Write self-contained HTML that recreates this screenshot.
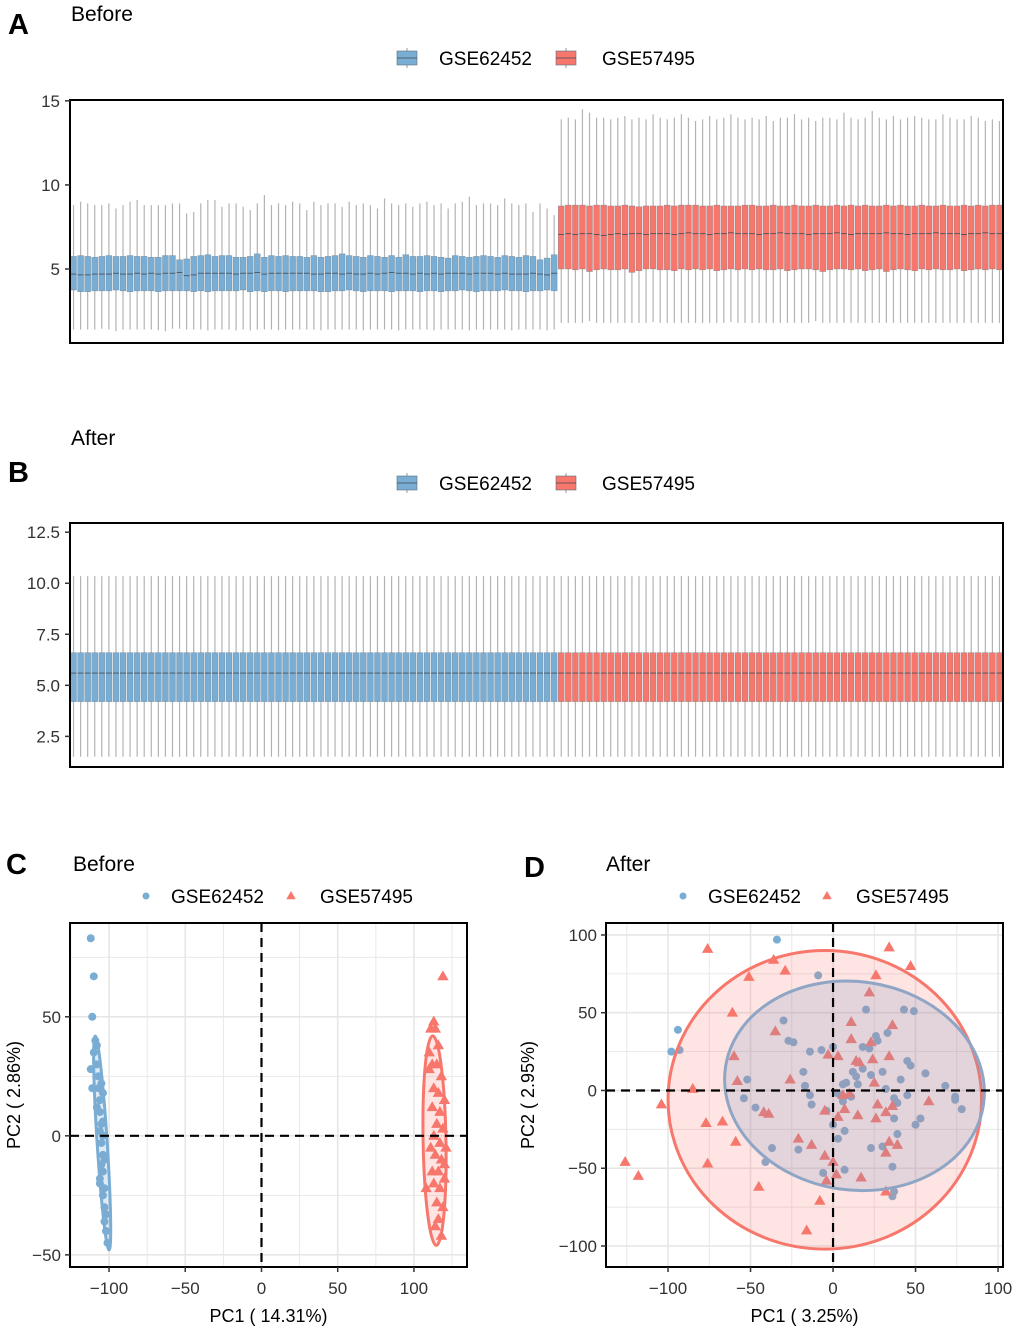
<!DOCTYPE html>
<html><head><meta charset="utf-8"><style>
html,body{margin:0;padding:0;background:#fff;}
svg{display:block;font-family:"Liberation Sans",Arial,sans-serif;}
</style></head><body>
<svg id="fig" width="1020" height="1332" viewBox="0 0 1020 1332"></svg>
<script>
// ===== Panel A data (Before) =====
const blueMed=[4.70,4.65,4.65,4.70,4.70,4.70,4.75,4.70,4.70,4.75,4.70,4.75,4.70,4.75,4.75,4.80,4.60,4.65,4.75,4.75,4.75,4.75,4.75,4.70,4.75,4.75,4.80,4.70,4.75,4.75,4.75,4.75,4.75,4.75,4.70,4.70,4.75,4.75,4.70,4.75,4.70,4.70,4.75,4.70,4.75,4.80,4.75,4.75,4.70,4.75,4.70,4.75,4.70,4.75,4.75,4.75,4.70,4.75,4.75,4.75,4.70,4.75,4.70,4.70,4.70,4.75,4.70,4.65,4.75];
const blueQ1=[3.75,3.65,3.65,3.70,3.70,3.70,3.75,3.70,3.65,3.70,3.70,3.70,3.65,3.70,3.70,3.70,3.70,3.65,3.70,3.65,3.70,3.70,3.70,3.70,3.75,3.65,3.70,3.65,3.70,3.70,3.65,3.70,3.70,3.70,3.70,3.65,3.65,3.70,3.70,3.75,3.70,3.65,3.70,3.70,3.70,3.65,3.70,3.70,3.70,3.65,3.70,3.70,3.65,3.70,3.70,3.75,3.70,3.65,3.70,3.70,3.70,3.75,3.70,3.70,3.65,3.70,3.70,3.75,3.70];
const blueQ3=[5.75,5.80,5.75,5.70,5.75,5.80,5.75,5.75,5.80,5.75,5.75,5.70,5.70,5.80,5.80,5.55,5.60,5.75,5.80,5.85,5.75,5.80,5.80,5.70,5.70,5.75,5.90,5.70,5.80,5.75,5.80,5.75,5.75,5.70,5.80,5.70,5.75,5.80,5.90,5.80,5.75,5.70,5.80,5.75,5.70,5.80,5.70,5.85,5.75,5.75,5.80,5.75,5.70,5.65,5.80,5.75,5.70,5.75,5.80,5.75,5.70,5.80,5.75,5.70,5.80,5.75,5.55,5.65,5.85];
const blueHi=[8.8,9.0,8.9,8.8,8.8,8.9,8.6,8.8,9.0,9.1,8.8,8.8,8.8,8.8,8.9,8.9,8.3,8.4,8.9,9.1,9.1,8.7,8.9,8.9,8.7,8.5,8.9,9.4,8.8,8.9,8.8,9.0,8.9,8.5,9.0,8.8,8.9,8.9,8.7,9.0,8.8,8.9,8.8,8.6,9.2,8.9,8.8,8.9,8.7,8.9,9.0,8.8,8.9,8.6,8.9,9.0,9.3,8.8,8.9,8.9,8.8,9.2,8.9,8.8,8.9,8.4,8.9,8.6,8.2];
const blueLo=[1.4,1.4,1.4,1.4,1.45,1.4,1.3,1.4,1.4,1.4,1.4,1.4,1.35,1.3,1.45,1.45,1.4,1.4,1.4,1.35,1.4,1.4,1.4,1.35,1.4,1.35,1.4,1.4,1.4,1.35,1.4,1.4,1.4,1.4,1.4,1.35,1.4,1.4,1.4,1.4,1.4,1.35,1.4,1.4,1.4,1.4,1.35,1.4,1.4,1.4,1.4,1.35,1.4,1.4,1.4,1.4,1.35,1.4,1.4,1.4,1.4,1.4,1.35,1.4,1.4,1.4,1.4,1.35,1.4];
const redMed=[7.05,7.10,7.05,7.10,7.10,7.05,7.00,7.05,7.10,7.05,7.10,7.10,7.05,7.10,7.10,7.10,7.05,7.10,7.15,7.10,7.10,7.05,7.10,7.10,7.15,7.10,7.10,7.10,7.05,7.10,7.10,7.15,7.10,7.10,7.10,7.05,7.10,7.10,7.10,7.15,7.10,7.05,7.10,7.10,7.10,7.10,7.15,7.10,7.10,7.05,7.10,7.10,7.10,7.15,7.10,7.10,7.10,7.05,7.10,7.10,7.15,7.10,7.10];
const redQ1=[5.0,5.0,4.95,5.0,4.85,4.95,5.0,4.95,4.95,5.0,4.8,4.9,5.0,5.0,4.95,4.95,4.9,5.0,4.95,5.0,4.95,5.0,4.9,4.95,5.0,4.95,5.0,4.95,5.0,4.95,4.95,5.0,4.9,4.95,5.0,5.0,4.95,4.85,4.95,5.0,5.0,4.95,5.0,4.9,4.95,5.0,4.85,4.95,5.0,4.95,4.9,5.0,4.95,5.0,4.95,4.95,5.0,4.9,4.95,5.0,4.95,5.0,4.95];
const redQ3=[8.75,8.8,8.8,8.8,8.75,8.8,8.8,8.75,8.75,8.8,8.75,8.7,8.75,8.75,8.75,8.8,8.75,8.8,8.8,8.8,8.75,8.75,8.8,8.75,8.75,8.75,8.8,8.8,8.75,8.75,8.8,8.75,8.75,8.8,8.75,8.75,8.8,8.75,8.75,8.8,8.75,8.8,8.75,8.8,8.75,8.75,8.8,8.75,8.8,8.75,8.75,8.8,8.75,8.75,8.8,8.75,8.75,8.8,8.75,8.8,8.75,8.8,8.8];
const redHi=[13.9,14.0,13.9,14.5,14.3,14.0,14.0,13.9,14.0,14.1,13.9,14.0,13.9,14.2,14.0,13.9,14.0,14.2,14.0,13.8,13.9,14.1,13.9,14.0,14.2,14.0,13.9,14.0,13.9,14.1,13.8,14.0,14.0,14.2,13.9,14.0,13.8,14.0,14.0,13.9,14.3,14.0,13.9,14.0,14.4,14.0,13.9,14.1,13.9,14.0,14.1,14.0,13.9,13.9,14.2,14.0,13.9,13.9,14.1,14.0,13.8,13.9,13.8];
const redLo=[1.8,1.8,1.8,1.8,1.9,1.8,1.8,1.8,1.8,1.8,1.8,1.8,1.8,1.85,1.8,1.8,1.8,1.8,1.8,1.8,1.8,1.8,1.8,1.8,1.85,1.8,1.8,1.8,1.8,1.8,1.8,1.8,1.8,1.8,1.8,1.8,1.9,1.8,1.8,1.8,1.8,1.8,1.8,1.8,1.8,1.8,1.8,1.8,1.8,1.8,1.8,1.8,1.8,1.8,1.8,1.8,1.8,1.8,1.8,1.8,1.8,1.8,1.8];
const ticksA=[5,10,15];
// ===== Panel B data (After) =====
const afterQ1=[4.2,4.2];const afterMed=[5.6,5.6];const afterQ3=[6.6,6.6];const afterHi=[10.35,10.35];const afterLo=[1.5,1.5];
const afterCounts=[69,63];
const ticksB=[2.5,5.0,7.5,10.0,12.5];
// ===== Panel C data =====
const cBlueX=[-112,-110,-111,-110,-112,-111,-109,-108,-108,-107,-107,-106,-108,-106,-105,-106,-104,-105,-104,-105,-104,-106,-103,-104,-103,-102,-103,-102,-101,-104,-105,-106,-103,-104];
const cBlueY=[83,67,50,35,28,20,40,38,30,25,20,15,12,10,5,2,0,-3,-8,-12,-15,-20,-22,-25,-30,-33,-36,-40,-45,18,22,-18,-10,6];
const cRedX=[119,113,111,114,110,112,110,115,118,113,116,120,112,117,115,119,113,117,121,114,118,112,116,120,108,113,117,115,119,116,114,118,120,111,116];
const cRedY=[67,48,45,45,35,30,28,30,25,20,18,15,12,10,5,3,0,-3,-5,-8,-10,-15,-15,-18,-22,-20,-22,-28,-30,-35,-38,-42,-12,-5,38];
const cXTicks=[-100,-50,0,50,100];const cYTicks=[-50,0,50];
// ===== Panel D data =====
const dBlueX=[-34,-9,20,43,49,-30,-94,-98,-93,-27,-24,-14,-7,0,18,22,26,27,33,45,47,-18,12,14,18,23,30,41,56,-52,-17,6,8,15,68,32,-54,-14,3,6,11,37,39,45,74,74,78,-47,-13,-4,0,37,53,50,7,3,39,-37,-21,23,30,-41,-6,7,36,36,37];
const dBlueY=[97,74,52,52,51,45,39,25,26,32,31,25,26,28,28,27,35,32,37,19,16,12,12,9,14,10,12,7,11,7,3,4,5,4,3,1,-5,-3,-2,-7,-4,-5,-8,-3,-4,-6,-12,-11,-9,-13,-22,-18,-18,-22,-26,-31,-28,-37,-38,-37,-36,-46,-53,-51,-49,-68,-65];
const dRedX=[-76,34,-36,-29,-51,47,26,22,-61,-35,11,36,11,23,-3,3,-60,14,16,24,34,-58,-26,25,-85,-104,6,10,27,36,58,-5,7,-42,-39,3,15,26,32,-77,-67,-59,-21,-13,34,39,32,-5,0,-126,-76,-118,2,17,-45,32,-4,-8,-16];
const dRedY=[91,92,84,77,73,80,74,63,50,38,44,42,33,31,23,22,22,19,18,20,22,6,7,5,1,-9,-3,-2,-9,-10,-7,-13,-12,-14,-15,-17,-16,-18,-14,-21,-20,-33,-31,-35,-33,-35,-40,-42,-46,-46,-47,-55,-54,-56,-62,-65,-58,-71,-90];
const dXTicks=[-100,-50,0,50,100];const dYTicks=[-100,-50,0,50,100];

const NS="http://www.w3.org/2000/svg";
const svg=document.getElementById('fig');
function mk(tag,attrs,parent){const e=document.createElementNS(NS,tag);for(const k in attrs)e.setAttribute(k,attrs[k]);(parent||svg).appendChild(e);return e;}
function txt(s,x,y,size,anchor,parent,extra){const e=mk('text',Object.assign({x:x,y:y,'font-size':size,'text-anchor':anchor||'start',fill:'#000'},extra||{}),parent);e.textContent=s;return e;}

const BLUE="#7aadd3",RED="#f8776c";

function panelLetter(s,x,y){const t=txt(s,x,y,29,'start',svg,{'font-weight':'bold'});

}
function subTitle(s,x,y,name){const t=txt(s,x,y,21,'start');

}

function boxPanel(g,top,bottom,ymin,ymax,ticks,groups,tickFmt){
  const L=70,R=1003;
  const ys=v=>bottom-(v-ymin)/(ymax-ymin)*(bottom-top);
  let n=0;groups.forEach(gr=>n+=gr.med.length);
  const bw=(R-L)/n;
  let idx=0;
  groups.forEach(gr=>{
    for(let i=0;i<gr.med.length;i++){
      const cx=L+bw*(idx+0.5);idx++;
      const w=mk('line',{x1:cx,x2:cx,y1:ys(gr.hi[i]),y2:ys(gr.lo[i]),stroke:'#b3b3b3','stroke-width':1.2},g);
      
      
      const b=mk('rect',{x:cx-bw*0.42,y:ys(gr.q3[i]),width:bw*0.84,height:ys(gr.q1[i])-ys(gr.q3[i]),fill:gr.color,stroke:'#5a6f80','stroke-width':0.5,'stroke-opacity':0.6},g);
      
      
      mk('line',{x1:cx-bw*0.42,x2:cx+bw*0.42,y1:ys(gr.med[i]),y2:ys(gr.med[i]),stroke:'#3c4a55','stroke-width':0.8},g);
    }
  });
  const fr=mk('rect',{x:L,y:top,width:R-L,height:bottom-top,fill:'none',stroke:'#000','stroke-width':2},g);
  
  
  ticks.forEach(t=>{const y=ys(t);
    mk('line',{x1:L-5,x2:L,y1:y,y2:y,stroke:'#333','stroke-width':1.5},g);
    const l=txt(tickFmt(t),L-10,y+6,17,'end',g,{fill:'#333'});
    
    });
}
function boxLegend(y){
  const lg=mk('g',{},svg);
  
  
  [[407,BLUE,'GSE62452',439],[566,RED,'GSE57495',602]].forEach(a=>{
    mk('line',{x1:a[0],x2:a[0],y1:y-10,y2:y+10,stroke:'#999','stroke-width':1},lg);
    mk('rect',{x:a[0]-10,y:y-7,width:20,height:14,fill:a[1],stroke:'#5a6f80','stroke-width':0.6},lg);
    mk('line',{x1:a[0]-10,x2:a[0]+10,y1:y,y2:y,stroke:'#3c4a55','stroke-width':0.8},lg);
    const t=txt(a[2],a[3],y+7,19,'start',lg);
    
    
  });
}
panelLetter('A',8,34);subTitle('Before',71,21,'panel-a-title');boxLegend(58);
const gA=mk('g',{});
boxPanel(gA,100,343,0.6,15.05,ticksA,[
 {name:'gse62452',color:BLUE,med:blueMed,q1:blueQ1,q3:blueQ3,hi:blueHi,lo:blueLo},
 {name:'gse57495',color:RED,med:redMed,q1:redQ1,q3:redQ3,hi:redHi,lo:redLo}],t=>String(t));

panelLetter('B',8,482);subTitle('After',71,445,'panel-b-title');boxLegend(483);
const gB=mk('g',{});
function rep(v,n){return new Array(n).fill(v);}
boxPanel(gB,523,767,1.0,12.95,ticksB,[
 {name:'gse62452',color:BLUE,med:rep(afterMed[0],afterCounts[0]),q1:rep(afterQ1[0],afterCounts[0]),q3:rep(afterQ3[0],afterCounts[0]),hi:rep(afterHi[0],afterCounts[0]),lo:rep(afterLo[0],afterCounts[0])},
 {name:'gse57495',color:RED,med:rep(afterMed[1],afterCounts[1]),q1:rep(afterQ1[1],afterCounts[1]),q3:rep(afterQ3[1],afterCounts[1]),hi:rep(afterHi[1],afterCounts[1]),lo:rep(afterLo[1],afterCounts[1])}],t=>t.toFixed(1));

function tri(x,y,s,fill,g){return mk('path',{d:`M${x},${y-s}L${x+s*0.95},${y+s*0.65}L${x-s*0.95},${y+s*0.65}Z`,fill:fill},g);}
function pcaPanel(o){
  const g=mk('g',{});
  
  
  const xs=v=>o.L+(v-o.xmin)/(o.xmax-o.xmin)*(o.R-o.L);
  const ys=v=>o.B-(v-o.ymin)/(o.ymax-o.ymin)*(o.B-o.T);
  const clipId='clip'+o.name;
  const cp=mk('clipPath',{id:clipId},g);mk('rect',{x:o.L,y:o.T,width:o.R-o.L,height:o.B-o.T},cp);
  const inner=mk('g',{'clip-path':`url(#${clipId})`},g);
  const xt=o.xt,yt=o.yt;
  const xstep=xt[1]-xt[0],ystep=yt[1]-yt[0];
  for(let v=xt[0]-xstep;v<=xt[xt.length-1]+xstep;v+=xstep/2){mk('line',{x1:xs(v),x2:xs(v),y1:o.T,y2:o.B,stroke:'#e6e6e6','stroke-width':v%xstep===0?1.6:0.9},inner);}
  for(let v=yt[0]-ystep;v<=yt[yt.length-1]+ystep;v+=ystep/2){mk('line',{y1:ys(v),y2:ys(v),x1:o.L,x2:o.R,stroke:'#e6e6e6','stroke-width':v%ystep===0?1.6:0.9},inner);}
  o.bx.forEach((v,i)=>{const c=mk('circle',{cx:xs(v),cy:ys(o.by[i]),r:4,fill:o.bc},inner);
    
    });
  o.rx.forEach((v,i)=>{const t=tri(xs(v),ys(o.ry[i]),6,o.rc,inner);
    
    });
  o.ell.forEach(e=>{const cx=xs(e.cx),cy=ys(e.cy);
    const el=mk('ellipse',{cx:cx,cy:cy,rx:e.rx*(o.R-o.L)/(o.xmax-o.xmin),ry:e.ry*(o.B-o.T)/(o.ymax-o.ymin),fill:e.fill,stroke:e.stroke,'stroke-width':3,transform:`rotate(${e.rot} ${cx} ${cy})`},inner);
    
    });
  mk('line',{x1:xs(0),x2:xs(0),y1:o.T,y2:o.B,stroke:'#000','stroke-width':2.2,'stroke-dasharray':'9,6'},inner);
  mk('line',{x1:o.L,x2:o.R,y1:ys(0),y2:ys(0),stroke:'#000','stroke-width':2.2,'stroke-dasharray':'9,6'},inner);
  mk('rect',{x:o.L,y:o.T,width:o.R-o.L,height:o.B-o.T,fill:'none',stroke:'#000','stroke-width':2},g);
  xt.forEach(t=>{const x=xs(t);mk('line',{x1:x,x2:x,y1:o.B,y2:o.B+5,stroke:'#333','stroke-width':1.5},g);
    const l=txt(String(t).replace('-','\u2212'),x,o.B+27,17,'middle',g,{fill:'#333'});
    
    });
  yt.forEach(t=>{const y=ys(t);mk('line',{x1:o.L-5,x2:o.L,y1:y,y2:y,stroke:'#333','stroke-width':1.5},g);
    const l=txt(String(t).replace('-','\u2212'),o.L-9,y+6,17,'end',g,{fill:'#333'});
    
    });
  const xtl=txt(o.xlab,(o.L+o.R)/2,1322,18,'middle',g);
  
  
  const ytl=txt(o.ylab,0,0,18,'middle',g,{transform:`translate(${o.L-o.yoff},${(o.T+o.B)/2}) rotate(-90)`});
  
  
  const lg=mk('g',{},g);
  
  
  mk('circle',{cx:o.leg[0],cy:896,r:3.5,fill:BLUE},lg);
  const t1=txt('GSE62452',o.leg[0]+25,903,19,'start',lg);
  
  
  tri(o.leg[1],896,5,RED,lg);
  const t2=txt('GSE57495',o.leg[1]+29,903,19,'start',lg);
  
  
}
panelLetter('C',6,874);subTitle('Before',73,871,'panel-c-title');
pcaPanel({name:'pca-before',L:70,R:467,T:923,B:1267,xmin:-125.6,xmax:134.8,ymin:-55.1,ymax:89.4,xt:cXTicks,yt:cYTicks,yoff:50,
 bx:cBlueX,by:cBlueY,rx:cRedX,ry:cRedY,bc:BLUE,rc:RED,leg:[146,291],xlab:'PC1 ( 14.31%)',ylab:'PC2 ( 2.86%)',
 ell:[{nm:'ellipse-gse62452',cx:-104.5,cy:-3,rx:3.3,ry:45,rot:-3.7,fill:'rgba(122,173,211,0.25)',stroke:BLUE},
      {nm:'ellipse-gse57495',cx:113.5,cy:-2,rx:7.5,ry:44,rot:-1,fill:'rgba(248,119,108,0.2)',stroke:RED}]});
panelLetter('D',524,877);subTitle('After',606,871,'panel-d-title');
pcaPanel({name:'pca-after',L:606,R:1003,T:923,B:1267,xmin:-137.6,xmax:103,ymin:-113.5,ymax:107.7,xt:dXTicks,yt:dYTicks,yoff:72,
 bx:dBlueX,by:dBlueY,rx:dRedX,ry:dRedY,bc:BLUE,rc:RED,leg:[683,827],xlab:'PC1 ( 3.25%)',ylab:'PC2 ( 2.95%)',
 ell:[{nm:'ellipse-gse57495',cx:-5,cy:-6,rx:95,ry:96,rot:0,fill:'rgba(248,119,108,0.2)',stroke:RED},
      {nm:'ellipse-gse62452',cx:13,cy:3,rx:79,ry:67,rot:8,fill:'rgba(130,150,190,0.22)',stroke:'#8fa5c6'}]});
</script>
</body></html>
